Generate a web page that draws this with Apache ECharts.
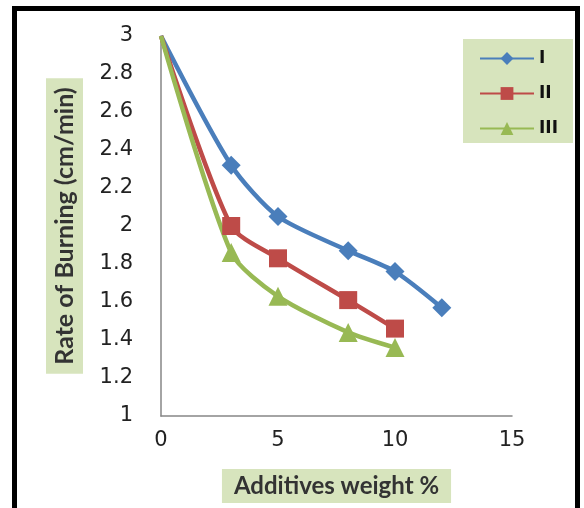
<!DOCTYPE html>
<html>
<head>
<meta charset="utf-8">
<script src="https://cdn.jsdelivr.net/npm/echarts@6/dist/echarts.min.js"></script>
<style>
html,body{margin:0;padding:0;background:#fff;}
#chart{width:584px;height:508px;}
</style>
</head>
<body>
<div id="chart"></div>
<script>
var seriesNames = ['I', 'II', 'III'];
var seriesI = [[0, 3], [3, 2.32], [5, 2.05], [8, 1.87], [10, 1.76], [12, 1.57]];
var seriesII = [[0, 3], [3, 2.0], [5, 1.83], [8, 1.61], [10, 1.46]];
var seriesIII = [[0, 3], [3, 1.86], [5, 1.63], [8, 1.44], [10, 1.36]];
var xTitle = 'Additives weight %';
var yTitle = 'Rate of Burning (cm/min)';

var colors = ['#4a7ebb', '#be4b48', '#98b954'];
var chart = echarts.init(document.getElementById('chart'));
var tickFont = {fontFamily: 'DejaVu Sans', fontSize: 21, color: '#222'};
var titleStyle = {
  fontFamily: 'Lato', fontWeight: 'bold', color: '#333',
  backgroundColor: '#d7e4bd'
};
function mk(name, data, sym, size, color) {
  // the origin point (x = 0) is drawn without a marker, as in the reference
  var items = data.map(function (d) {
    return d[0] === 0 ? {value: d, symbolSize: 0} : {value: d};
  });
  return {
    name: name, type: 'line', data: items, smooth: 0.25,
    symbol: sym, symbolSize: size, showSymbol: true,
    lineStyle: {width: 4.5, color: color},
    itemStyle: {color: color},
    emphasis: {disabled: true}
  };
}
chart.setOption({
  animation: false,
  grid: {left: 161, right: 72, top: 36, bottom: 92},
  xAxis: {
    type: 'value', min: 0, max: 15, interval: 5,
    axisLine: {show: true, onZero: false, lineStyle: {color: '#868686', width: 1.5}},
    axisTick: {show: false},
    splitLine: {show: false},
    axisLabel: Object.assign({margin: 14}, tickFont),
    name: xTitle, nameLocation: 'middle', nameGap: 53,
    nameTextStyle: Object.assign({fontSize: 24, padding: [5, 12, 5, 12], verticalAlign: 'top'}, titleStyle)
  },
  yAxis: {
    type: 'value', min: 1, max: 3, interval: 0.2,
    axisLine: {show: true, lineStyle: {color: '#868686', width: 1.5}},
    axisTick: {show: false},
    splitLine: {show: false},
    axisLabel: Object.assign({margin: 28}, tickFont),
    name: yTitle, nameLocation: 'middle', nameRotate: 90, nameGap: 78,
    nameTextStyle: Object.assign({fontSize: 25, padding: [6, 9, 6, 9]}, titleStyle)
  },
  legend: {
    orient: 'vertical', left: 463, top: 39,
    backgroundColor: '#d7e4bd', borderRadius: 0,
    padding: [11, 15, 6, 16], itemGap: 18,
    itemWidth: 54, itemHeight: 16,
    textStyle: {fontFamily: 'DejaVu Sans', fontWeight: 'bold', fontSize: 17, color: '#111'},
    data: seriesNames
  },
  series: [
    mk(seriesNames[0], seriesI, 'diamond', 19, colors[0]),
    mk(seriesNames[1], seriesII, 'rect', 18, colors[1]),
    mk(seriesNames[2], seriesIII, 'triangle', 19, colors[2])
  ],
  graphic: [{
    type: 'rect', silent: true, z: 100,
    shape: {x: 14.5, y: 8.5, width: 563, height: 530},
    style: {fill: 'none', stroke: '#000', lineWidth: 5}
  }]
});
</script>
</body>
</html>
